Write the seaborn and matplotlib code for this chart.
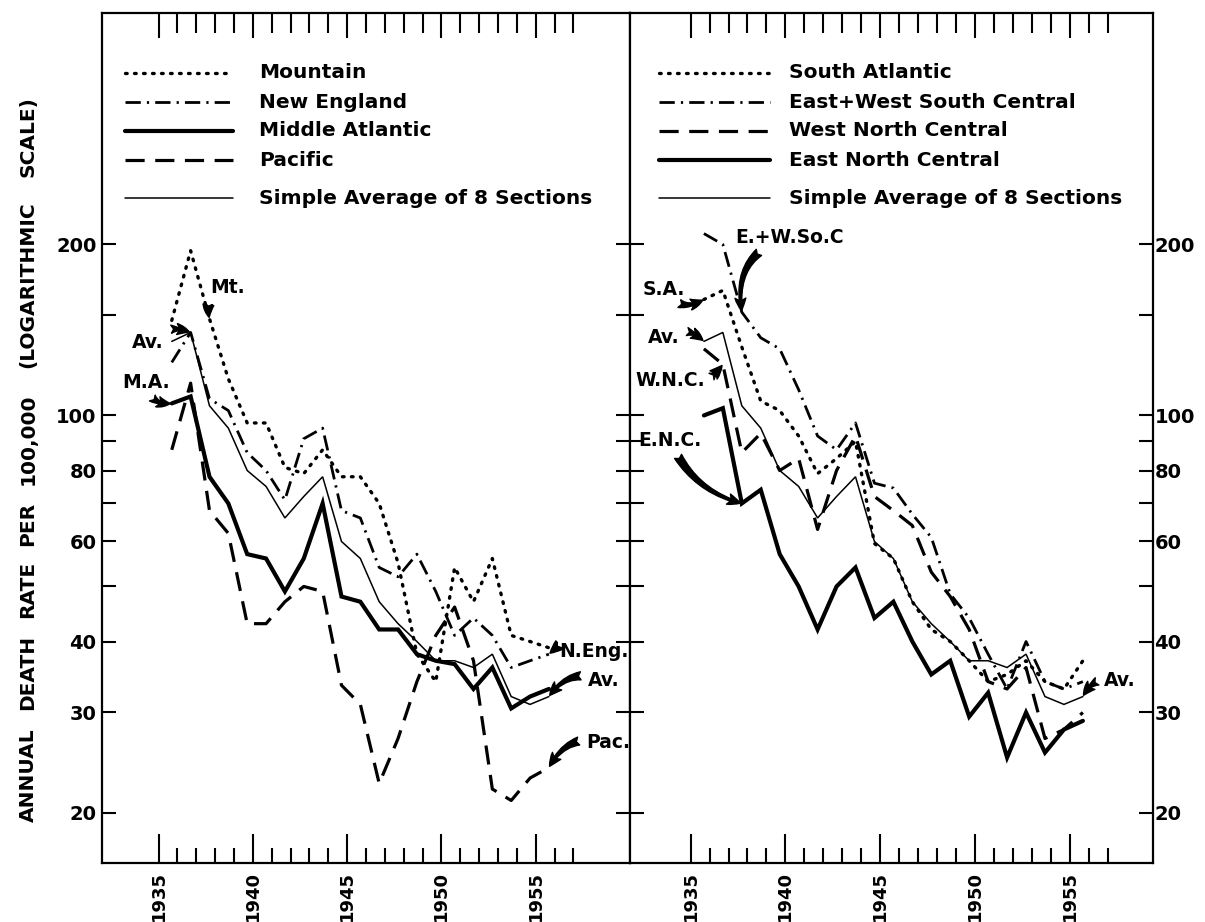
import numpy as np
import matplotlib
matplotlib.use("Agg")
import matplotlib.pyplot as plt
import matplotlib.ticker as mticker
import seaborn as sns
from matplotlib.lines import Line2D

sns.set_theme(style="white")
plt.rcParams["font.family"] = ["DejaVu Sans"]
plt.rcParams.update({
    "font.weight": "bold",
    "text.color": "black",
    "axes.labelcolor": "black",
    "xtick.color": "black",
    "ytick.color": "black",
})

# ---- data: annual death rate per 100,000, by geographic section ----
years = list(range(1935, 1956))

# left panel
mountain = [147, 195, 148, 116, 97, 97, 81, 79, 87, 78, 78, 70, 55, 38, 34, 54, 47, 56, 41, 40, 39]
new_england = [124, 140, 107, 102, 86, 80, 71, 91, 95, 68, 66, 54, 52, 57, 49, 41, 44, 41, 36, 37, 38]
middle_atlantic = [105, 108, 78, 70, 57, 56, 49, 56, 70, 48, 47, 42, 42, 38, 37, 36.5, 33, 36, 30.5, 32, 33]
pacific = [87, 114, 68, 62, 43, 43, 47, 50, 49, 33.5, 31, 22.5, 27, 34, 41, 46, 37, 22, 21, 23, 24]

# right panel
south_atlantic = [160, 166, 132, 106, 102, 92, 79, 84, 90, 59.5, 56, 47, 42, 40, 37, 34, 35, 37, 34, 33, 37]
ew_south_central = [209, 200, 152, 137, 131, 111, 92, 87, 97, 76, 74.5, 67, 61, 48.5, 44, 38, 33, 40, 34, 33, 34]
west_north_central = [131, 123, 86, 93, 80, 84, 63, 80, 92, 72, 68, 64, 53, 48, 42, 34, 33, 36, 27, 28, 30]
east_north_central = [100, 103, 70, 74, 57, 50, 42, 50, 54, 44, 47, 40, 35, 37, 29.5, 32.5, 25, 30, 25.5, 28, 29]

# simple average of the 8 sections (drawn in both panels)
average = [135, 140, 104, 95, 80, 75, 66, 72, 78, 60, 56, 47, 43, 40, 37, 37, 36, 38, 32, 31, 32]

y_major = [20, 30, 40, 60, 80, 100, 200]
y_minor = [50, 70, 90, 150]
x_major = [1935, 1940, 1945, 1950, 1955]
x_minor = list(range(1935, 1958))

left_labels = ["Mountain", "New England", "Middle Atlantic", "Pacific",
               "Simple Average of 8 Sections"]
right_labels = ["South Atlantic", "East+West South Central", "West North Central",
                "East North Central", "Simple Average of 8 Sections"]
y_title = "ANNUAL DEATH RATE PER 100,000 (LOGARITHMIC SCALE)"

# ---- line styles ----
DOT = dict(lw=2.4, linestyle=(0, (0.5, 2.2)), cap="round")
DASHDOT = dict(lw=2.0, linestyle=(0, (5.5, 2.2, 0.8, 2.2)), cap="butt")
DASH = dict(lw=2.3, linestyle=(0, (6, 3.3)), cap="butt")
THICK = dict(lw=3.0, linestyle="-", cap="butt")
THIN = dict(lw=1.1, linestyle="-", cap="butt")

W, H = 1205, 922
PX = 72 / 100  # points per pixel
fig = plt.figure(figsize=(W / 100, H / 100), dpi=100)
fig.patch.set_facecolor("white")

top_px, bot_px = 13, 863
axL = fig.add_axes([102 / W, 1 - bot_px / H, (630 - 102) / W, (bot_px - top_px) / H])
axR = fig.add_axes([630 / W, 1 - bot_px / H, (1153 - 630) / W, (bot_px - top_px) / H])

YLIM = (16.3, 511)
OFFSET = 0.7  # position of each annual rate within its year


def draw(ax, series, styles):
    for vals, st in zip(series, styles):
        df = {"year": [y + OFFSET for y in years], "rate": vals}
        sns.lineplot(x="year", y="rate", data=df, ax=ax, legend=False,
                     color="black", linewidth=st["lw"])
        ln = ax.lines[-1]
        ln.set_linestyle(st["linestyle"])
        ln.set_dash_capstyle(st["cap"])
        ln.set_solid_joinstyle("miter")


draw(axL, [mountain, new_england, middle_atlantic, pacific, average],
     [DOT, DASHDOT, THICK, DASH, THIN])
draw(axR, [south_atlantic, ew_south_central, west_north_central, east_north_central,
           average],
     [DOT, DASHDOT, DASH, THICK, THIN])

for ax, xl in ((axL, (1932, 1960)), (axR, (1931.8, 1959.4))):
    ax.set_yscale("log")
    ax.set_ylim(*YLIM)
    ax.set_xlim(*xl)
    ax.set_xlabel("")
    ax.set_ylabel("")
    ax.grid(False)
    ax.set_facecolor("white")
    for s in ax.spines.values():
        s.set_color("black")
        s.set_linewidth(1.6)
    ax.yaxis.set_major_locator(mticker.FixedLocator(y_major))
    ax.yaxis.set_minor_locator(mticker.FixedLocator(y_minor))
    ax.yaxis.set_minor_formatter(mticker.NullFormatter())
    ax.xaxis.set_major_locator(mticker.FixedLocator(x_major))
    ax.xaxis.set_minor_locator(mticker.FixedLocator(x_minor))
    ax.tick_params(axis="y", which="both", direction="in", length=14 * PX, width=1.5,
                   left=True, right=True, labelsize=14)
    ax.tick_params(axis="x", which="major", direction="in", length=29 * PX, width=1.5,
                   top=True, bottom=True, labelsize=13, labelrotation=90, pad=6)
    ax.tick_params(axis="x", which="minor", direction="in", length=15 * PX, width=1.5,
                   top=True, bottom=True)
    ax.set_xticklabels([str(v) for v in x_major], fontweight="bold")

axL.tick_params(axis="y", labelleft=True, labelright=False, pad=4)
axR.tick_params(axis="y", labelleft=False, labelright=True, pad=1)
axL.set_yticklabels([str(v) for v in y_major], fontweight="bold")
axR.set_yticklabels([str(v) for v in y_major], fontweight="bold")
# the top ticks are a little shorter than the bottom ones
for ax in (axL, axR):
    for t in ax.xaxis.get_major_ticks():
        t.tick2line.set_markersize(25 * PX)
    for t in ax.xaxis.get_minor_ticks():
        t.tick2line.set_markersize(20 * PX)

# ---- key drawn inside each panel ----
row_px = [73, 102, 131, 160, 198]


def key(ax, x0, x1, xt, labels, styles):
    inv = ax.transAxes.inverted()
    for ypx, lab, st in zip(row_px, labels, styles):
        (ax0, ay), (ax1, _) = inv.transform([(x0, H - ypx), (x1, H - ypx)])
        axt, _ = inv.transform((xt, H - ypx))
        ln = Line2D([ax0, ax1], [ay, ay], transform=ax.transAxes, color="black",
                    lw=st["lw"], linestyle=st["linestyle"])
        ln.set_dash_capstyle(st["cap"])
        ax.add_line(ln)
        ax.text(axt, ay, lab, transform=ax.transAxes, fontsize=14.5,
                fontweight="bold", ha="left", va="center")


key(axL, 125, 233, 259, left_labels, [DOT, DASHDOT, THICK, DASH, THIN])
key(axR, 659, 770, 789, right_labels, [DOT, DASHDOT, DASH, THICK, THIN])

# ---- section labels with brush-stroke arrows (label centres in figure pixels) ----
def tag(ax, text, series, year, tx, ty, rad):
    i = years.index(year)
    ax.annotate(text, xy=(year + OFFSET, series[i]), xytext=(tx, H - ty),
                textcoords="figure pixels", fontsize=13.5, fontweight="bold",
                ha="center", va="center",
                arrowprops=dict(arrowstyle="fancy,head_length=0.7,head_width=0.6,tail_width=0.45",
                                color="black", connectionstyle=f"arc3,rad={rad}",
                                shrinkA=3, shrinkB=1, mutation_scale=13))


tag(axL, "Mt.", mountain, 1937, 228, 287, 0.5)
tag(axL, "Av.", average, 1936, 148, 342, -0.35)
tag(axL, "M.A.", middle_atlantic, 1935, 146, 382, 0.5)
tag(axL, "N.Eng.", new_england, 1955, 594, 651, 0.4)
tag(axL, "Av.", average, 1955, 604, 680, 0.4)
tag(axL, "Pac.", pacific, 1955, 608, 742, 0.4)

tag(axR, "E.+W.So.C", ew_south_central, 1937, 790, 237, 0.45)
tag(axR, "S.A.", south_atlantic, 1935, 664, 289, 0.5)
tag(axR, "Av.", average, 1935, 664, 337, -0.4)
tag(axR, "W.N.C.", west_north_central, 1936, 670, 380, 0.4)
tag(axR, "E.N.C.", east_north_central, 1937, 670, 440, 0.25)
tag(axR, "Av.", average, 1955, 1120, 680, 0.4)

# ---- vertical axis title, tracked out along the axis ----
renderer = fig.canvas.get_renderer()
title_font = dict(fontsize=14.5, fontweight="bold")


def natural_width(s):
    t = fig.text(0, 0, s, **title_font)
    w = t.get_window_extent(renderer).width
    t.remove()
    return w


span_bottom, span_top = 826, 92
full = natural_width(y_title)
track = ((span_bottom - span_top) - full) / (len(y_title) - 1)
pos = 0
for word in y_title.split(" "):
    ww = natural_width(word)
    lead = natural_width(y_title[:pos]) if pos else 0.0
    start = span_bottom - (lead + track * pos)
    center = start - (ww + track * (len(word) - 1)) / 2
    fig.text(28 / W, 1 - center / H, word, rotation=90, ha="center", va="center",
             **title_font)
    pos += len(word) + 1

fig.savefig("out.png", dpi=100, facecolor="white")
